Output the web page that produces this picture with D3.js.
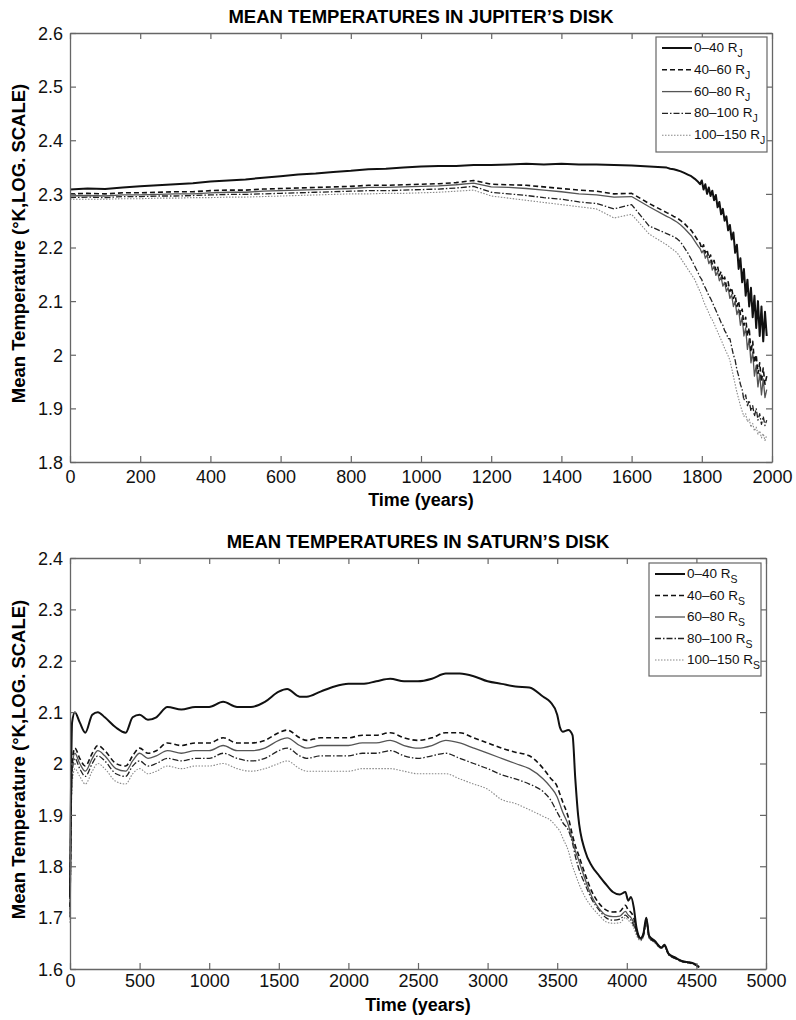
<!DOCTYPE html>
<html><head><meta charset="utf-8">
<script src="https://cdn.jsdelivr.net/npm/d3@7"></script>
<style>
body{margin:0;background:#fff;}
svg{display:block;font-family:"Liberation Sans",Arial,Helvetica,sans-serif;}
</style></head>
<body><svg id="c" width="796" height="1020"></svg>
<script>
// ---------------- DATA ----------------
const seriesLabels = ["0\u201340 R", "40\u201360 R", "60\u201380 R", "80\u2013100 R", "100\u2013150 R"];

const xTicksJ = [0,200,400,600,800,1000,1200,1400,1600,1800,2000];
const yTicksJ = [1.8,1.9,2.0,2.1,2.2,2.3,2.4,2.5,2.6];
const xTicksS = [0,500,1000,1500,2000,2500,3000,3500,4000,4500,5000];
const yTicksS = [1.6,1.7,1.8,1.9,2.0,2.1,2.2,2.3,2.4];

const timeJ = [0,50,100,150,200,250,300,350,400,450,500,550,600,650,700,750,800,850,900,950,1000,1050,1100,1150,1200,1250,1300,1350,1400,1450,1500,1550,1600,1650,1700,
1710,1720,1730,1740,1750,1760,1770,1780,1790,
1795,1800,1805,1810,1815,1820,1825,1830,1835,1840,1845,1850,1855,1860,1865,1870,1875,1880,1885,1890,1895,1900,1905,1910,1915,1920,1925,1930,1935,1940,1945,1950,1955,1960,1965,1970,1975,1980,1985];

const jup0_40 = [2.308,2.310,2.309,2.312,2.314,2.316,2.318,2.320,2.323,2.325,2.327,2.330,2.333,2.336,2.338,2.341,2.343,2.346,2.347,2.349,2.351,2.352,2.352,2.354,2.354,2.355,2.356,2.355,2.356,2.355,2.355,2.354,2.353,2.351,2.349,
2.347,2.346,2.344,2.342,2.339,2.336,2.333,2.328,2.322,
2.318,2.325,2.308,2.318,2.300,2.312,2.296,2.306,2.288,2.298,2.275,2.285,2.262,2.272,2.250,2.258,2.232,2.242,2.215,2.228,2.190,2.205,2.160,2.180,2.135,2.160,2.110,2.140,2.090,2.125,2.070,2.110,2.050,2.100,2.035,2.090,2.025,2.080,2.035];

const jup40_60 = [2.300,2.301,2.300,2.302,2.302,2.303,2.304,2.304,2.306,2.307,2.307,2.309,2.310,2.311,2.312,2.313,2.314,2.316,2.316,2.317,2.318,2.319,2.321,2.325,2.318,2.317,2.316,2.313,2.310,2.307,2.305,2.300,2.301,2.282,2.265,
2.262,2.258,2.255,2.250,2.245,2.238,2.232,2.222,2.212,
2.208,2.198,2.205,2.190,2.196,2.180,2.186,2.168,2.176,2.158,2.165,2.148,2.155,2.138,2.145,2.128,2.136,2.118,2.125,2.105,2.112,2.090,2.100,2.075,2.085,2.055,2.070,2.035,2.050,2.005,2.025,1.985,2.000,1.965,1.985,1.950,1.975,1.945,1.960];

const jup60_80 = [2.296,2.297,2.296,2.298,2.298,2.299,2.300,2.300,2.302,2.303,2.303,2.305,2.306,2.307,2.308,2.309,2.310,2.312,2.312,2.313,2.314,2.315,2.317,2.320,2.313,2.312,2.310,2.307,2.304,2.300,2.298,2.294,2.295,2.276,2.258,
2.255,2.251,2.247,2.242,2.236,2.229,2.222,2.212,2.202,
2.198,2.190,2.195,2.180,2.186,2.170,2.176,2.158,2.165,2.148,2.155,2.138,2.145,2.128,2.135,2.118,2.125,2.105,2.112,2.090,2.100,2.075,2.085,2.055,2.070,2.035,2.050,2.010,2.030,1.985,2.005,1.960,1.980,1.940,1.965,1.925,1.955,1.920,1.935];

const jup80_100 = [2.293,2.294,2.293,2.295,2.295,2.296,2.296,2.297,2.298,2.299,2.299,2.300,2.301,2.302,2.303,2.304,2.305,2.306,2.306,2.307,2.308,2.309,2.311,2.314,2.303,2.300,2.297,2.293,2.290,2.285,2.282,2.272,2.280,2.240,2.226,
2.223,2.220,2.216,2.210,2.200,2.190,2.178,2.165,2.152,
2.145,2.140,2.130,2.125,2.118,2.110,2.105,2.098,2.090,2.083,2.075,2.068,2.060,2.055,2.045,2.040,2.030,2.030,2.015,2.000,1.990,1.972,1.960,1.945,1.935,1.915,1.925,1.905,1.915,1.895,1.905,1.885,1.900,1.878,1.890,1.870,1.885,1.868,1.878];

const jup100_150 = [2.290,2.290,2.290,2.291,2.291,2.292,2.292,2.293,2.293,2.294,2.294,2.295,2.296,2.297,2.298,2.299,2.300,2.300,2.301,2.301,2.302,2.303,2.305,2.307,2.296,2.292,2.288,2.284,2.280,2.276,2.272,2.255,2.262,2.225,2.205,
2.200,2.195,2.190,2.180,2.170,2.160,2.150,2.140,2.125,
2.118,2.110,2.100,2.092,2.085,2.078,2.070,2.065,2.058,2.050,2.043,2.035,2.028,2.020,2.012,2.005,1.998,1.990,1.975,1.960,1.945,1.930,1.918,1.905,1.895,1.885,1.890,1.875,1.880,1.865,1.872,1.858,1.865,1.852,1.858,1.845,1.853,1.840,1.850];

const timeS = [0,15,35,70,110,160,200,250,330,400,450,500,560,620,700,800,900,1000,1100,1200,1300,1400,1500,1560,1650,1700,1800,1900,2000,2100,2200,2300,2400,2500,2600,2700,2800,2900,3000,3100,3200,3300,3400,3450,3500,3520,3540,3580,3610,3630,3650,3700,3750,3800,3850,3900,3950,3990,4010,4030,4050,4070,4100,4120,4140,4160,4200,4250,4270,4300,4350,4400,4450,4480,4520];

const sat0_40 = [1.74,2.08,2.10,2.08,2.06,2.095,2.10,2.09,2.07,2.06,2.09,2.095,2.085,2.09,2.11,2.105,2.11,2.11,2.12,2.11,2.11,2.12,2.14,2.145,2.13,2.13,2.14,2.15,2.155,2.155,2.16,2.165,2.16,2.16,2.165,2.175,2.175,2.17,2.16,2.155,2.15,2.148,2.13,2.12,2.095,2.07,2.062,2.065,2.055,1.97,1.90,1.83,1.80,1.782,1.765,1.75,1.745,1.75,1.733,1.74,1.72,1.68,1.66,1.67,1.70,1.665,1.655,1.642,1.647,1.63,1.622,1.615,1.613,1.611,1.604];

const sat40_60 = [1.72,2.00,2.03,2.01,1.995,2.02,2.035,2.025,2.00,1.995,2.015,2.03,2.02,2.025,2.04,2.035,2.04,2.04,2.05,2.04,2.04,2.045,2.06,2.065,2.05,2.045,2.05,2.05,2.05,2.055,2.055,2.06,2.05,2.045,2.05,2.06,2.06,2.05,2.04,2.03,2.022,2.015,1.99,1.972,1.955,1.94,1.925,1.895,1.86,1.84,1.825,1.785,1.75,1.728,1.715,1.711,1.712,1.724,1.715,1.71,1.70,1.675,1.66,1.668,1.698,1.663,1.654,1.641,1.646,1.629,1.621,1.615,1.612,1.61,1.603];

const sat60_80 = [1.71,1.99,2.02,2.00,1.985,2.01,2.025,2.015,1.99,1.985,2.005,2.02,2.01,2.015,2.025,2.02,2.025,2.025,2.035,2.025,2.025,2.03,2.045,2.05,2.035,2.03,2.035,2.035,2.035,2.04,2.04,2.045,2.035,2.03,2.035,2.045,2.04,2.03,2.02,2.01,2.00,1.99,1.97,1.955,1.935,1.92,1.905,1.88,1.85,1.83,1.815,1.775,1.74,1.718,1.705,1.702,1.703,1.712,1.705,1.70,1.69,1.672,1.658,1.666,1.696,1.662,1.653,1.641,1.645,1.629,1.621,1.615,1.612,1.61,1.603];

const sat80_100 = [1.70,1.98,2.01,1.99,1.975,2.00,2.015,2.005,1.98,1.975,1.995,2.005,1.995,2.00,2.01,2.005,2.01,2.01,2.02,2.01,2.005,2.01,2.025,2.03,2.015,2.01,2.015,2.015,2.015,2.02,2.02,2.025,2.015,2.01,2.015,2.02,2.01,2.00,1.99,1.978,1.97,1.96,1.945,1.93,1.905,1.895,1.885,1.87,1.845,1.82,1.80,1.765,1.735,1.715,1.70,1.695,1.697,1.705,1.70,1.695,1.685,1.67,1.657,1.665,1.695,1.661,1.652,1.640,1.645,1.628,1.620,1.614,1.612,1.61,1.603];

const sat100_150 = [1.69,1.96,1.99,1.975,1.96,1.985,2.00,1.99,1.965,1.96,1.98,1.99,1.98,1.985,1.995,1.99,1.995,1.995,2.00,1.99,1.985,1.99,2.00,2.005,1.99,1.985,1.985,1.985,1.985,1.99,1.99,1.99,1.985,1.98,1.98,1.98,1.97,1.96,1.95,1.93,1.922,1.91,1.897,1.89,1.875,1.868,1.855,1.83,1.80,1.785,1.77,1.74,1.72,1.705,1.692,1.689,1.69,1.70,1.695,1.69,1.68,1.665,1.655,1.663,1.692,1.66,1.651,1.640,1.644,1.628,1.620,1.614,1.611,1.609,1.603];

// ---------------- STYLES ----------------
const styles = [
  {stroke:"#111", width:2.0, dash:null},
  {stroke:"#111", width:1.6, dash:"5,3"},
  {stroke:"#555", width:1.3, dash:null},
  {stroke:"#222", width:1.3, dash:"6,2,1.5,2"},
  {stroke:"#888", width:1.1, dash:"1.5,1.5"}
];

const svg = d3.select("#c");
const FONT_TICK = 18;

function panel(cfg){
  const g = svg.append("g");
  const x = d3.scaleLinear().domain(cfg.xDomain).range([cfg.left, cfg.right]);
  const y = d3.scaleLinear().domain(cfg.yDomain).range([cfg.bottom, cfg.top]);

  const line = d3.line().x(d=>x(d[0])).y(d=>y(d[1])).curve(cfg.curve);
  for(let i=cfg.series.length-1;i>=0;i--){
    const pts = cfg.time.map((t,k)=>[t,cfg.series[i][k]]);
    const s = styles[i];
    g.append("path").datum(pts).attr("d",line)
      .attr("fill","none").attr("stroke",s.stroke).attr("stroke-width",s.width)
      .attr("stroke-dasharray",s.dash).attr("stroke-linejoin","round");
  }

  const axColor = "#666";
  const fmt = v => d3.format("")(+v.toFixed(1));
  const ab = g.append("g").attr("transform",`translate(0,${cfg.bottom})`)
    .call(d3.axisBottom(x).tickValues(cfg.xTicks).tickSizeInner(-6).tickSizeOuter(0).tickPadding(cfg.xPad).tickFormat(d3.format("d")));
  const at = g.append("g").attr("transform",`translate(0,${cfg.top})`)
    .call(d3.axisTop(x).tickValues(cfg.xTicks).tickSizeInner(-6).tickSizeOuter(0).tickFormat(""));
  const al = g.append("g").attr("transform",`translate(${cfg.left},0)`)
    .call(d3.axisLeft(y).tickValues(cfg.yTicks).tickSizeInner(-6).tickSizeOuter(0).tickPadding(7).tickFormat(fmt));
  const ar = g.append("g").attr("transform",`translate(${cfg.right},0)`)
    .call(d3.axisRight(y).tickValues(cfg.yTicks).tickSizeInner(-6).tickSizeOuter(0).tickFormat(""));
  [ab,at,al,ar].forEach(a=>{
    a.select(".domain").attr("stroke",axColor).attr("stroke-width",1.3);
    a.selectAll(".tick line").attr("stroke",axColor).attr("stroke-width",1.2);
    a.selectAll(".tick text").attr("fill","#111").attr("font-size",FONT_TICK)
      .attr("font-family","'Liberation Sans',Arial,sans-serif");
  });
  al.selectAll(".tick text").attr("dy","0.35em");

  g.append("text").attr("x",(cfg.left+cfg.right)/2).attr("y",cfg.top-10.5)
    .attr("text-anchor","middle").attr("font-weight","bold").attr("font-size",18.5)
    .text(cfg.title);
  g.append("text").attr("x",(cfg.left+cfg.right)/2).attr("y",cfg.bottom+cfg.xLabOff)
    .attr("text-anchor","middle").attr("font-weight","bold").attr("font-size",18)
    .text("Time (years)");
  g.append("text").attr("transform",`translate(25,${(cfg.top+cfg.bottom)/2 - 4}) rotate(-90)`)
    .attr("text-anchor","middle").attr("font-weight","bold").attr("font-size",18.5)
    .text("Mean Temperature (\u00B0K,LOG. SCALE)");

  const L = cfg.legend;
  g.append("rect").attr("x",L.x).attr("y",L.y).attr("width",L.w).attr("height",L.h)
    .attr("fill","#fff").attr("stroke",axColor).attr("stroke-width",1.2);
  seriesLabels.forEach((lab,i)=>{
    const yy = L.y + 11 + i*L.step;
    const s = styles[i];
    g.append("line").attr("x1",L.x+6).attr("x2",L.x+36).attr("y1",yy).attr("y2",yy)
      .attr("stroke",s.stroke).attr("stroke-width",s.width).attr("stroke-dasharray",s.dash);
    const t = g.append("text").attr("x",L.x+38).attr("y",yy+4).attr("font-size",13.5).attr("fill","#111");
    t.append("tspan").text(lab);
    t.append("tspan").attr("dy",5).attr("font-size",10.5).text(cfg.sub);
  });
}

panel({
  title:"MEAN TEMPERATURES IN JUPITER\u2019S DISK", sub:"J",
  left:70, right:772, top:33, bottom:462, xPad:8, xLabOff:44,
  xDomain:[0,2000], yDomain:[1.8,2.6], xTicks:xTicksJ, yTicks:yTicksJ,
  time:timeJ, series:[jup0_40,jup40_60,jup60_80,jup80_100,jup100_150],
  curve:d3.curveLinear,
  legend:{x:656,y:37,w:111,h:115,step:21.8}
});
panel({
  title:"MEAN TEMPERATURES IN SATURN\u2019S DISK", sub:"S",
  left:70, right:766, top:558, bottom:969, xPad:5, xLabOff:42,
  xDomain:[0,5000], yDomain:[1.6,2.4], xTicks:xTicksS, yTicks:yTicksS,
  time:timeS, series:[sat0_40,sat40_60,sat60_80,sat80_100,sat100_150],
  curve:d3.curveMonotoneX,
  legend:{x:649,y:563,w:112,h:113,step:21.5}
});
</script></body></html>
